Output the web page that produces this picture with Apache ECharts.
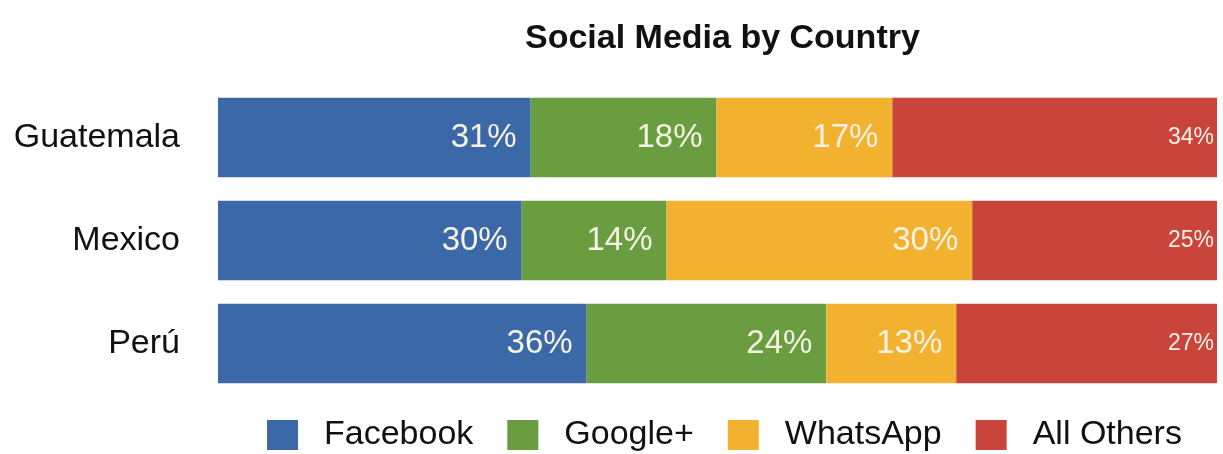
<!DOCTYPE html>
<html>
<head>
<meta charset="utf-8">
<script src="https://cdn.jsdelivr.net/npm/echarts@6/dist/echarts.min.js"></script>
<style>
html,body{margin:0;padding:0;background:#fff;}
#chart{width:1223px;height:454px;}
</style>
</head>
<body>
<div id="chart"></div>
<script>
// Data
const countries = ['Guatemala', 'Mexico', 'Perú'];
const seriesNames = ['Facebook', 'Google+', 'WhatsApp', 'All Others'];
// Printed labels (percent)
const facebookLabel = [31, 30, 36];
const googlePlusLabel = [18, 14, 24];
const whatsAppLabel = [17, 30, 13];
const allOthersLabel = [34, 25, 27];
// Bar lengths as drawn (share of the full bar, percent)
const facebook = [31.3, 30.4, 36.9];
const googlePlus = [18.6, 14.5, 24.0];
const whatsApp = [17.6, 30.6, 13.0];
const allOthers = [32.5, 24.5, 26.1];
const colors = ['#3b68a6', '#6a9c40', '#f2b230', '#c9443a'];

const values = [facebook, googlePlus, whatsApp, allOthers];
const labels = [facebookLabel, googlePlusLabel, whatsAppLabel, allOthersLabel];

const chart = echarts.init(document.getElementById('chart'));
const FONT = '"Liberation Sans", Arial, Helvetica, sans-serif';

const series = seriesNames.map((name, si) => ({
  name: name,
  type: 'bar',
  stack: 'total',
  barCategoryGap: '23%',
  itemStyle: { color: colors[si] },
  data: values[si].map((v, i) => ({ value: v, raw: labels[si][i] })),
  label: {
    show: true,
    position: 'insideRight',
    distance: si === 3 ? 3 : 14,
    color: '#f6f2e4',
    fontFamily: FONT,
    fontSize: si === 3 ? 23 : 33,
    padding: [4, 0, 0, 0],
    formatter: p => p.data.raw + '%'
  },
  emphasis: { disabled: true }
}));

chart.setOption({
  animation: false,
  backgroundColor: '#ffffff',
  title: {
    text: 'Social Media by Country',
    left: 520,
    top: 17,
    textStyle: { fontFamily: FONT, fontSize: 34, fontWeight: 'bold', color: '#111' }
  },
  legend: {
    data: seriesNames,
    left: 262,
    top: 413,
    icon: 'rect',
    itemWidth: 31,
    itemHeight: 30,
    itemGap: 34,
    textStyle: { fontFamily: FONT, fontSize: 34, color: '#111', padding: [0, 0, 0, 21] }
  },
  grid: { left: 218, right: 6, top: 86, bottom: 59, containLabel: false },
  xAxis: {
    type: 'value',
    min: 0,
    max: 100,
    show: false
  },
  yAxis: {
    type: 'category',
    data: countries,
    inverse: true,
    axisLine: { show: false },
    axisTick: { show: false },
    splitLine: { show: false },
    axisLabel: { fontFamily: FONT, fontSize: 34, color: '#111', margin: 38, padding: [5, 0, 0, 0] }
  },
  series: series
});
</script>
</body>
</html>
